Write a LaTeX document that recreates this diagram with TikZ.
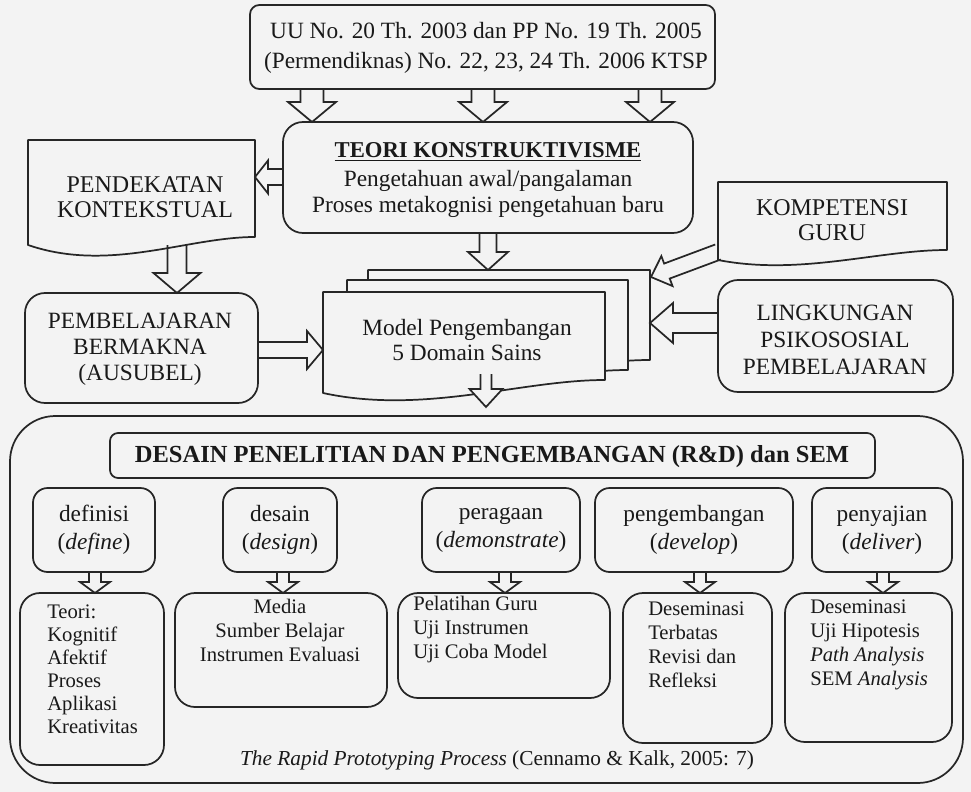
\documentclass[tikz,border=0pt]{standalone}
\usepackage{fontspec}
\setmainfont{Liberation Serif}
\usetikzlibrary{calc,fit}
\definecolor{bgc}{RGB}{243,243,243}
\newcommand{\fs}{\fontsize{17.5}{19}\selectfont}
\tikzset{
 ln/.style={line width=1.3pt, draw=black!85},
 rbox/.style={ln, rounded corners=#1, inner sep=0pt, outer sep=0pt},
 rbox/.default=12pt,
 area/.style={inner sep=0pt, outer sep=0pt},
 txt/.style={font=\fs, align=center, inner sep=0pt, text=black!90},
}
\newcommand{\blockarrow}[6][]{%
 \pgfmathsetlengthmacro\baSW{#4*0.75pt}%
 \pgfmathsetlengthmacro\baHW{#5*0.75pt}%
 \pgfmathsetlengthmacro\baHL{#6*0.75pt}%
 \path (#2) coordinate (baA) (#3) coordinate (baB);
 \coordinate (baH) at ($(baB)!\baHL!(baA)$);
 \draw[ln,line join=miter,#1] ($(baA)!\baSW!90:(baB)$) -- ($(baH)!\baSW!-90:(baA)$) -- ($(baH)!\baHW!-90:(baA)$) -- (baB) -- ($(baH)!\baHW!90:(baA)$) -- ($(baH)!\baSW!90:(baA)$) -- ($(baA)!\baSW!-90:(baB)$);
}
\newcommand{\docshape}[3]{\draw[ln, fill=bgc, line join=round] (#1.north west) -- (#1.north east) -- ($(#1.south east)+(0,-#2)$) .. controls ($(#1.south east)!0.3!(#1.south west)+(0,-#2)$) and ($(#1.south east)!0.64!(#1.south west)+(0,#3)$) .. (#1.south west) -- cycle;}
\begin{document}
\begin{tikzpicture}[x=0.75pt,y=-0.75pt]
\useasboundingbox[fill=bgc] (0,0) rectangle (971,792);

% top
\node[rbox=7pt, fit={(250,5)(715,89)}] (uu) {};
\node[txt, font=\fontsize{17.5}{22.5}\selectfont] (uut) at (486,48) {UU No. 20 Th. 2003 dan PP No. 19 Th. 2005\\(Permendiknas) No. 22, 23, 24 Th. 2006 KTSP};

\node[rbox=15pt, fit={(283,122)(693,233)}] (teori) {};
\node[txt] (teorit) at (488,180) {\fontsize{17}{19}\selectfont\underline{\textbf{TEORI KONSTRUKTIVISME}}\\[3pt] Pengetahuan awal/pangalaman\\ Proses metakognisi pengetahuan baru};

\node[area, fit={(28,140)(255,245)}] (pk) {};
\docshape{pk}{8}{28}
\node[txt, font=\fontsize{18}{19}\selectfont] (pkt) at (145,197) {PENDEKATAN\\KONTEKSTUAL};

\node[rbox=15pt, fit={(25,293)(258,403)}] (pb) {};
\node[txt, font=\fontsize{17.5}{19.5}\selectfont] (pbt) at (140,349) {PEMBELAJARAN\\BERMAKNA\\(AUSUBEL)};

\node[area, fit={(368,270)(650,373)}] (mback) {};
\node[area, fit={(347,280)(628,383)}] (mmid) {};
\node[area, fit={(323,292)(605,393)}] (mfront) {};
\docshape{mback}{13}{22}
\docshape{mmid}{13}{22}
\docshape{mfront}{13}{22}
\node[txt] (mt) at (467,340) {Model Pengembangan\\5 Domain Sains};

\node[area, fit={(718,182)(947,260)}] (kg) {};
\docshape{kg}{10}{16}
\node[txt, font=\fontsize{18}{19}\selectfont] (kgt) at (832,220) {KOMPETENSI\\GURU};

\node[rbox=15pt, fit={(718,280)(953,392)}] (lp) {};
\node[txt, font=\fontsize{17.5}{20}\selectfont] (lpt) at (835,340) {LINGKUNGAN\\PSIKOSOSIAL\\PEMBELAJARAN};

% bottom frame
\node[rbox=34pt, fit={(10,416)(963,783)}] (outer) {};
\node[rbox=6pt, fit={(110,433)(875,478)}] (title) {};
\node[txt, font=\fontsize{18.4}{19}\selectfont\bfseries] (titlet) at (492,457) {DESAIN PENELITIAN DAN PENGEMBANGAN (R\&D) dan SEM};

\node[rbox=11pt, fit={(33,488)(155,572)}] (p1) {};
\node[rbox=11pt, fit={(223,488)(337,572)}] (p2) {};
\node[rbox=11pt, fit={(422,488)(580,572)}] (p3) {};
\node[rbox=11pt, fit={(595,488)(793,572)}] (p4) {};
\node[rbox=11pt, fit={(812,488)(952,572)}] (p5) {};
\node[txt, font=\fontsize{17.5}{21}\selectfont] (p1t) at (p1.center) {definisi\\(\textit{define})};
\node[txt, font=\fontsize{17.5}{21}\selectfont] (p2t) at (p2.center) {desain\\(\textit{design})};
\node[txt, font=\fontsize{17.5}{21}\selectfont] (p3t) at (p3.center) {peragaan\\(\textit{demonstrate})};
\node[txt, font=\fontsize{17.5}{21}\selectfont] (p4t) at (p4.center) {pengembangan\\(\textit{develop})};
\node[txt, font=\fontsize{17.5}{21}\selectfont] (p5t) at (p5.center) {penyajian\\(\textit{deliver})};

\node[rbox=15pt, fit={(20,593)(164,765)}] (r1) {};
\node[rbox=15pt, fit={(175,593)(387,707)}] (r2) {};
\node[rbox=15pt, fit={(398,593)(610,698)}] (r3) {};
\node[rbox=15pt, fit={(623,593)(772,743)}] (r4) {};
\node[rbox=15pt, fit={(785,593)(952,742)}] (r5) {};
\node[txt, align=left, anchor=west, font=\fontsize{15.5}{17.25}\selectfont] (r1t) at (47,669) {Teori:\\Kognitif\\Afektif\\Proses\\Aplikasi\\Kreativitas};
\node[txt, font=\fontsize{15.5}{18}\selectfont] (r2t) at (280,630) {Media\\Sumber Belajar\\Instrumen Evaluasi};
\node[txt, align=left, anchor=west, font=\fontsize{15.5}{18}\selectfont] (r3t) at (413,630) {Pelatihan Guru\\Uji Instrumen\\Uji Coba Model};
\node[txt, align=left, anchor=west, font=\fontsize{15.5}{18}\selectfont] (r4t) at (648,645) {Deseminasi\\Terbatas\\Revisi dan\\Refleksi};
\node[txt, align=left, anchor=west, font=\fontsize{15.5}{18}\selectfont] (r5t) at (810,645) {Deseminasi\\Uji Hipotesis\\\textit{Path Analysis}\\SEM \textit{Analysis}};

\node[txt, font=\fontsize{16}{19}\selectfont] (cap) at (497,760) {\textit{The Rapid Prototyping Process} (Cennamo \& Kalk, 2005: 7)};

% arrows
\blockarrow{312,0 |- uu.south}{312,0 |- teori.north}{11.5}{24}{20}
\blockarrow{483,0 |- uu.south}{483,0 |- teori.north}{11.5}{24}{20}
\blockarrow{650,0 |- uu.south}{650,0 |- teori.north}{11.5}{24}{20}
\blockarrow{teori.west |- 0,177}{pk.east |- 0,177}{8}{16.5}{13}
\blockarrow{177,0 |- pk.south}{177,0 |- pb.north}{9.5}{23.5}{20}
\blockarrow{pb.east |- 0,350}{mfront.west |- 0,350}{8}{19}{16}
\blockarrow{488,0 |- teori.south}{488,0 |- mback.north}{8.5}{20}{18}
\blockarrow{$(kg.south west)+(0,-8)$}{$(mback.north east)+(1,7)$}{8}{16}{17}
\blockarrow{lp.west |- 0,323}{mback.east |- 0,323}{10}{20}{23}
\coordinate (mtip) at ($(486,0 |- outer.north)+(0,-9)$);
\blockarrow[fill=bgc]{$(486,0 |- mfront.south)+(0,-19)$}{mtip}{5.5}{16.5}{18}

\blockarrow{95,0 |- p1.south}{95,0 |- r1.north}{6}{15}{11}
\blockarrow{283,0 |- p2.south}{283,0 |- r2.north}{6}{15}{11}
\blockarrow{505,0 |- p3.south}{505,0 |- r3.north}{6}{15}{11}
\blockarrow{700,0 |- p4.south}{700,0 |- r4.north}{6}{15}{11}
\blockarrow{883,0 |- p5.south}{883,0 |- r5.north}{6}{15}{11}
\end{tikzpicture}
\end{document}
